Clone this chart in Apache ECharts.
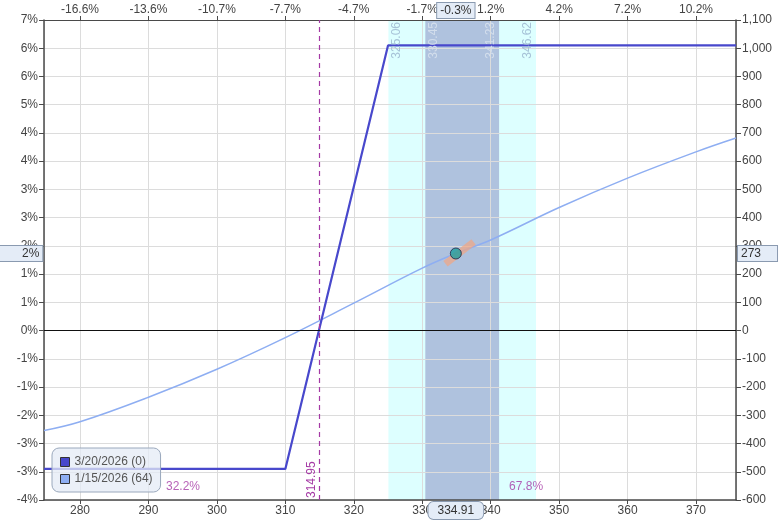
<!DOCTYPE html>
<html><head><meta charset="utf-8">
<script src="https://cdn.jsdelivr.net/npm/echarts@6/dist/echarts.min.js"></script>
<style>html,body{margin:0;padding:0;background:#fff}#c{width:780px;height:520px}</style>
</head><body><div id="c"></div>
<script>
// ---- data ----
const xTicks = [280, 290, 300, 310, 320, 330, 340, 350, 360, 370];
const topTickLabels = ['-16.6%', '-13.6%', '-10.7%', '-7.7%', '-4.7%', '-1.7%', '1.2%', '4.2%', '7.2%', '10.2%'];
const yTicks = [-600, -500, -400, -300, -200, -100, 0, 100, 200, 300, 400, 500, 600, 700, 800, 900, 1000, 1100];
const leftTickLabels = ['-4%', '-3%', '-3%', '-2%', '-1%', '-1%', '0%', '1%', '1%', '2%', '3%', '3%', '4%', '4%', '5%', '6%', '6%', '7%'];
const xRange = [274.74, 375.84];

const seriesNames = ['3/20/2026 (0)', '1/15/2026 (64)'];
const expiryPrices = [274.74, 310, 325, 375.84];
const expiryPnL = [-490, -490, 1010, 1010];
const t0Prices = [274.74, 280, 290, 300, 310, 320, 330, 334.91, 340, 350, 360, 370, 375.84];
const t0PnL = [-354, -323, -236, -137, -25, 97, 221, 273, 321, 436, 540, 633, 682];

const outerBand = [325.06, 346.62];
const innerBand = [330.45, 341.23];
const breakeven = 314.95;
const currentPrice = 334.91;
const currentPnL = 273;
const topPointerLabel = '-0.3%';
const leftPointerLabel = '2%';
const deltaBarX = [333.4, 337.5];
const deltaBarY = [237, 314];
const probLabels = ['32.2%', '67.8%'];
const probX = [295.05, 345.17];
const probY = [-554, -554];

// ---- chart ----
const FONT = 'Liberation Sans, Arial, sans-serif';
const AX = '#4a4a4a';
const LBL = '#444';
const GRIDC = '#dcdcdc';
const PURPLE = '#a53aa5';

const chart = echarts.init(document.getElementById('c'), null, {renderer: 'canvas'});

function ptrLabel(fmt, radius, padding) {
  return {
    show: true, formatter: fmt, color: '#333', fontFamily: FONT, fontSize: 12,
    backgroundColor: '#e4ecf7', borderColor: '#8a9ab0', borderWidth: 1,
    borderRadius: radius, padding: padding, margin: 2
  };
}

const option = {
  animation: false,
  textStyle: {fontFamily: FONT},
  grid: {left: 44, right: 44, top: 20, bottom: 20, containLabel: false},
  legend: {
    data: seriesNames, orient: 'vertical', left: 52, top: 448,
    icon: 'rect', itemWidth: 9, itemHeight: 9, itemGap: 5,
    padding: [8, 8, 7, 8],
    backgroundColor: 'rgba(228,235,246,0.75)', borderColor: '#9aa8bc', borderWidth: 1, borderRadius: 7,
    itemStyle: {borderColor: '#333', borderWidth: 1},
    textStyle: {color: '#555', fontSize: 12, fontFamily: FONT}
  },
  xAxis: [
    {
      type: 'value', position: 'bottom', min: xRange[0], max: xRange[1], splitNumber: 10,
      axisLine: {show: true, onZero: false, lineStyle: {color: AX, width: 1.5}},
      axisTick: {show: true, length: 4, lineStyle: {color: AX}},
      axisLabel: {color: LBL, fontSize: 12, margin: 5, showMinLabel: false, showMaxLabel: false,
        formatter: v => (xTicks.indexOf(Math.round(v * 100) / 100) >= 0 ? String(v) : '')},
      splitLine: {show: true, lineStyle: {color: GRIDC, width: 1}},
      axisPointer: {show: true, status: 'show', value: currentPrice, triggerTooltip: false,
        lineStyle: {opacity: 0}, label: ptrLabel(() => currentPrice.toFixed(2), 5, [3, 9, 2, 9])}
    },
    {
      type: 'value', position: 'top', min: xRange[0], max: xRange[1], splitNumber: 10,
      axisLine: {show: true, onZero: false, lineStyle: {color: AX, width: 1}},
      axisTick: {show: true, length: 4, lineStyle: {color: AX}},
      axisLabel: {color: LBL, fontSize: 12, margin: 4, showMinLabel: false, showMaxLabel: false,
        formatter: v => { const i = xTicks.indexOf(Math.round(v * 100) / 100); return i >= 0 ? topTickLabels[i] : ''; }},
      splitLine: {show: false},
      axisPointer: {show: true, status: 'show', value: currentPrice, triggerTooltip: false,
        lineStyle: {opacity: 0}, label: ptrLabel(() => topPointerLabel, 0, [2, 3, 1, 3])}
    }
  ],
  yAxis: [
    {
      type: 'value', position: 'left', min: yTicks[0], max: yTicks[yTicks.length - 1], interval: 100,
      axisLine: {show: true, onZero: false, lineStyle: {color: AX, width: 1.5}},
      axisTick: {show: true, length: 5, lineStyle: {color: AX}},
      axisLabel: {color: LBL, fontSize: 12, margin: 6,
        formatter: v => { const i = yTicks.indexOf(v); return i >= 0 ? leftTickLabels[i] : ''; }},
      splitLine: {show: true, lineStyle: {color: GRIDC, width: 1}},
      axisPointer: {show: true, status: 'show', value: currentPnL, triggerTooltip: false,
        lineStyle: {opacity: 0}, label: ptrLabel(() => leftPointerLabel, 0, [2, 3, 1, 22])}
    },
    {
      type: 'value', position: 'right', min: yTicks[0], max: yTicks[yTicks.length - 1], interval: 100,
      axisLine: {show: true, onZero: false, lineStyle: {color: AX, width: 1.5}},
      axisTick: {show: true, length: 5, lineStyle: {color: AX}},
      axisLabel: {color: LBL, fontSize: 12, margin: 6,
        formatter: v => v.toLocaleString('en-US')},
      splitLine: {show: false},
      axisPointer: {show: true, status: 'show', value: currentPnL, triggerTooltip: false,
        lineStyle: {opacity: 0}, label: ptrLabel(() => String(currentPnL), 0, [2, 16, 1, 3])}
    }
  ],
  series: [
    {
      name: 'bands', type: 'line', data: [], silent: true,
      markArea: {
        silent: true, z: -1,
        data: [
          [{xAxis: outerBand[0], itemStyle: {color: '#ddffff'}}, {xAxis: outerBand[1]}],
          [{xAxis: innerBand[0], itemStyle: {color: '#afc2de'}}, {xAxis: innerBand[1]}]
        ]
      },
      markLine: {
        silent: true, symbol: 'none',
        lineStyle: {color: 'rgba(0,0,0,0)', width: 0},
        label: {show: true, color: '#a7c3d8', fontSize: 12, fontFamily: FONT, distance: 2,
          formatter: p => Number(p.value).toFixed(2)},
        data: [
          {xAxis: outerBand[0], label: {position: 'insideEndBottom'}},
          {xAxis: innerBand[0], label: {position: 'insideEndBottom', color: '#d3deec'}},
          {xAxis: innerBand[1], label: {position: 'insideEndTop', color: '#d3deec'}},
          {xAxis: outerBand[1], label: {position: 'insideEndTop'}}
        ]
      }
    },
    {
      name: 'ref', type: 'line', data: [], silent: true,
      markLine: {
        silent: true, symbol: 'none',
        data: [
          {yAxis: 0, lineStyle: {color: '#111', width: 1, type: 'solid'}, label: {show: false}},
          {xAxis: breakeven, lineStyle: {color: PURPLE, width: 1.2, type: [5, 4]},
            label: {show: true, position: 'insideStartTop', color: PURPLE, fontSize: 12, distance: 2,
              formatter: () => breakeven.toFixed(2)}}
        ]
      }
    },
    {
      name: seriesNames[1], type: 'line', smooth: 0.4, symbol: 'none',
      data: t0Prices.map((x, i) => [x, t0PnL[i]]),
      lineStyle: {color: '#8eaef2', width: 1.5}, itemStyle: {color: '#8eaef2'}
    },
    {
      name: seriesNames[0], type: 'line', symbol: 'none',
      data: expiryPrices.map((x, i) => [x, expiryPnL[i]]),
      lineStyle: {color: '#4848cc', width: 2.2}, itemStyle: {color: '#4848cc'}
    },
    {
      name: 'delta', type: 'line', symbol: 'none', silent: true, z: 3,
      data: deltaBarX.map((x, i) => [x, deltaBarY[i]]),
      lineStyle: {color: 'rgba(242,165,130,0.7)', width: 7, cap: 'butt'}
    },
    {
      name: 'current', type: 'scatter', symbol: 'circle', symbolSize: 11, z: 4, silent: true,
      data: [[currentPrice, currentPnL]],
      itemStyle: {color: '#1f9e9e', borderColor: '#224', borderWidth: 1}
    },
    {
      name: 'prob', type: 'scatter', symbolSize: 0, silent: true,
      data: probX.map((x, i) => ({value: [x, probY[i]], label: {formatter: probLabels[i]}})),
      label: {show: true, position: 'inside', color: PURPLE, fontSize: 12, fontFamily: FONT}
    }
  ]
};
chart.setOption(option);
</script>
</body></html>
